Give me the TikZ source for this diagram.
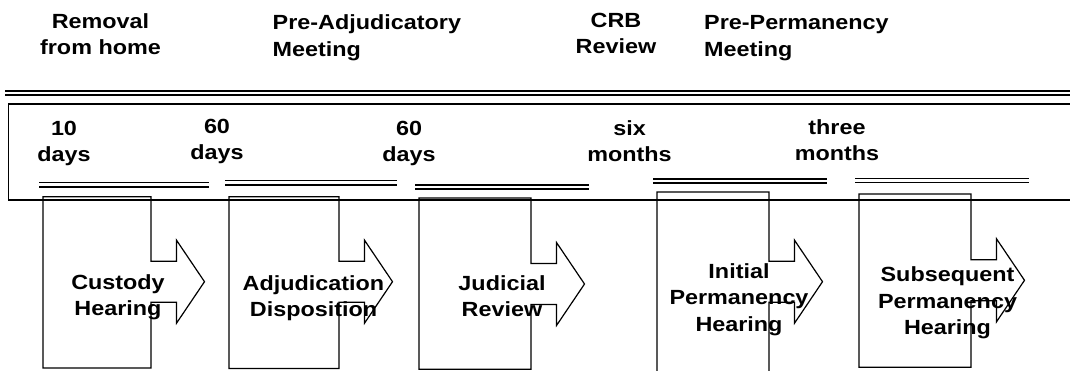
\documentclass[tikz,border=0pt]{standalone}
\usepackage{fontspec}
\setmainfont{Liberation Sans}[FakeStretch=1.14]
\newcommand\rightcallout[5]{% left, right, top, bottom, centre line
  \draw[calloutline] (#1,#4) -- (#1,#3) -- (#2,#3) -- (#2,#5-20.5) -- (#2+25.5,#5-20.5)
    -- (#2+25.5,#5-41.5) -- (#2+53.5,#5) -- (#2+25.5,#5+41.5) -- (#2+25.5,#5+20.5)
    -- (#2,#5+20.5) -- (#2,#4) -- cycle;}
\begin{document}
\begin{tikzpicture}[x=1pt,y=-1pt,
  lbl/.style={font=\fontsize{20.5}{26.5}\selectfont\bfseries, inner sep=0pt, align=center, anchor=base},
  lbll/.style={lbl, align=left, anchor=base west},
  rule/.style={line width=1.4pt},
  toprule/.style={line width=1.6pt},
  calloutline/.style={line width=1.2pt, line join=miter}]
\useasboundingbox (0,0) rectangle (1070,370);
\clip (0,0) rectangle (1070,370);
% top double rule and frame
\draw[toprule] (5,91) -- (1080,91);
\draw[toprule] (5,95.2) -- (1080,95.2);
\draw[rule] (1080,104) -- (8.5,104) -- (8.5,200) -- (1080,200);
% short double rules
\draw[rule] (39,182.7) -- (209,182.7);  \draw[rule] (39,187) -- (209,187);
\draw[rule] (225,180.5) -- (397,180.5); \draw[rule] (225,185) -- (397,185);
\draw[rule] (415,185) -- (589,185);     \draw[rule] (415,189) -- (589,189);
\draw[rule] (653,179) -- (827,179);     \draw[rule] (653,183) -- (827,183);
\draw[rule] (855,178.5) -- (1029,178.5);\draw[rule] (855,182.7) -- (1029,182.7);
% callout shapes
\rightcallout{43}{151}{196.7}{368}{281.7}
\rightcallout{229}{339}{196.7}{368.5}{281.7}
\rightcallout{419}{531}{198}{369.3}{284}
\rightcallout{657}{769}{192}{380}{281.7}
\rightcallout{859}{971}{194}{367.3}{280.3}
% top labels (positions are last-line baselines)
\node[lbl]  (removal) at (100.5,54.5) {Removal\\from home};
\node[lbll] (preadj)  at (272.5,56)   {Pre-Adjudicatory\\Meeting};
\node[lbl]  (crb)     at (616,53.5)   {CRB\\Review};
\node[lbll] (preperm) at (704,56)     {Pre-Permanency\\Meeting};
% periods
\node[lbl] (p1) at (64,161.5)   {10\\days};
\node[lbl] (p2) at (217,159.5)  {60\\days};
\node[lbl] (p3) at (409,161.5)  {60\\days};
\node[lbl] (p4) at (629.5,161.5){six\\months};
\node[lbl] (p5) at (837,160.5)  {three\\months};
% hearings
\node[lbl] (h1) at (118,315.5)  {Custody\\Hearing};
\node[lbl] (h2) at (313.5,316.5){Adjudication\\Disposition};
\node[lbl] (h3) at (502,316.5)  {Judicial\\Review};
\node[lbl] (h4) at (739,331)    {Initial\\Permanency\\Hearing};
\node[lbl] (h5) at (947.5,334.5){Subsequent\\Permanency\\Hearing};
\end{tikzpicture}
\end{document}
